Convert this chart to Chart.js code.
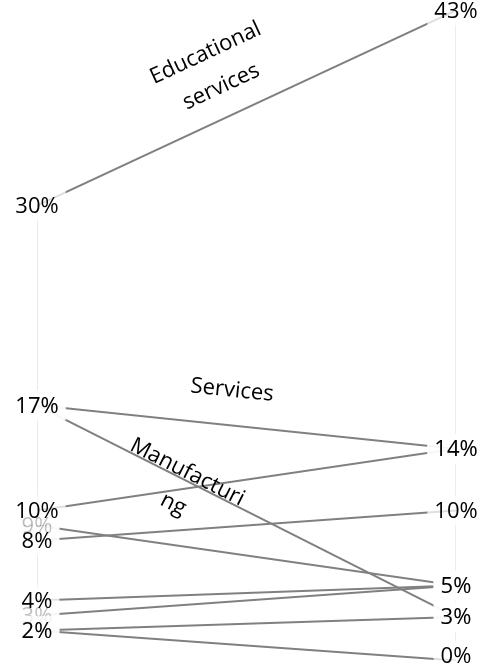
<!DOCTYPE html>
<html><head><meta charset="utf-8">
<script src="https://cdn.jsdelivr.net/npm/chart.js@4"></script>
<style>html,body{margin:0;padding:0;background:#fff;overflow:hidden}canvas{display:block}</style>
</head><body>
<canvas id="c" width="481" height="665"></canvas>
<script>
// Data
const industries = ['Educational services','Services','Manufacturing','','','','','','',''];
const startShare = [30.3, 17, 17, 9, 10, 8, 3, 4, 2, 2];
const endShare   = [43.3, 14.1, 2.9, 5, 14.1, 10, 5, 5, 2.9, 0];
const yMin = 0, yMax = 44;

// Layout of the category names along their lines (style only)
const nameLayout = {
  0: {lines: ['Educational', 'services'], t: 0.47, off: 67, gap: 37},
  1: {lines: ['Services'], t: 0.457, off: 35, gap: 34},
  2: {lines: ['Manufacturi', 'ng'], t: 0.35, off: 8, gap: 35, shift: [0, 2]}
};

const LINE = '#808080';
const FONT = '22px "Open Sans"';

const datasets = industries.map((name, i) => ({
  label: name || ('series ' + (i + 1)),
  data: [{x: 0, y: startShare[i]}, {x: 1, y: endShare[i]}],
  borderColor: LINE, borderWidth: 2, pointRadius: 0, tension: 0, order: 0
}));
datasets.push({
  label: 'axisStart',
  data: [{x: 0, y: Math.max(...startShare)}, {x: 0, y: Math.min(...startShare)}],
  borderColor: '#e8e8e8', borderWidth: 1, pointRadius: 0, order: 1
});
datasets.push({
  label: 'axisEnd',
  data: [{x: 1, y: Math.max(...endShare)}, {x: 1, y: Math.min(...endShare)}],
  borderColor: '#e8e8e8', borderWidth: 1, pointRadius: 0, order: 1
});

const labelPlugin = {
  id: 'slopeLabels',
  afterDatasetsDraw(chart) {
    const ctx = chart.ctx, xs = chart.scales.x, ys = chart.scales.y;
    ctx.save();
    ctx.font = FONT;
    ctx.textAlign = 'center';
    ctx.textBaseline = 'middle';
    // category names
    industries.forEach((name, i) => {
      const lay = nameLayout[i];
      if (!lay || !name) return;
      const x0 = xs.getPixelForValue(0), y0 = ys.getPixelForValue(startShare[i]);
      const x1 = xs.getPixelForValue(1), y1 = ys.getPixelForValue(endShare[i]);
      const dx = x1 - x0, dy = y1 - y0;
      ctx.save();
      ctx.translate(x0 + dx * lay.t, y0 + dy * lay.t);
      ctx.rotate(Math.atan2(dy, dx));
      ctx.fillStyle = '#000';
      lay.lines.forEach((ln, k) => {
        const sx = lay.shift ? lay.shift[k] : 0;
        ctx.fillText(ln, sx, -(lay.off - k * lay.gap));
      });
      ctx.restore();
    });
    // value tags
    const tag = (x, y, v) => {
      const txt = Math.round(v) + '%';
      const w = ctx.measureText(txt).width + 14, h = 30;
      y = Math.min(y, chart.height - 9);
      ctx.fillStyle = 'rgba(255,255,255,0.75)';
      ctx.fillRect(x - w / 2, y - h / 2, w, h);
      ctx.fillStyle = '#000';
      ctx.fillText(txt, x, y + 1);
    };
    startShare.forEach(v => tag(xs.getPixelForValue(0), ys.getPixelForValue(v), v));
    endShare.forEach(v => tag(xs.getPixelForValue(1), ys.getPixelForValue(v), v));
    ctx.restore();
  }
};

new Chart(document.getElementById('c'), {
  type: 'line',
  data: {datasets},
  options: {
    responsive: false,
    animation: false,
    layout: {padding: {left: 37, right: 25, top: 0, bottom: 4.5}},
    scales: {
      x: {type: 'linear', min: 0, max: 1, display: false},
      y: {type: 'linear', min: yMin, max: yMax, display: false}
    },
    plugins: {legend: {display: false}, tooltip: {enabled: false}},
    elements: {line: {borderCapStyle: 'butt'}}
  },
  plugins: [labelPlugin]
});
</script>
</body></html>
